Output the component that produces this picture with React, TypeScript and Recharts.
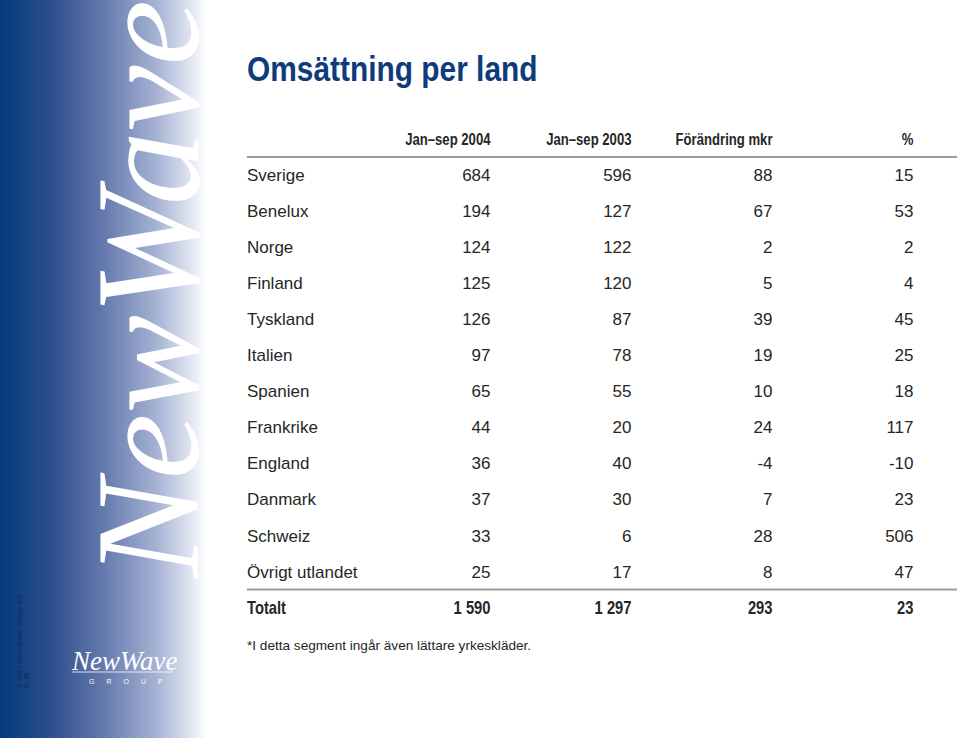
import React from 'react';
import { ScatterChart, Scatter, XAxis, YAxis, ReferenceLine, Customized } from 'recharts';

const title = 'Omsättning per land';
const footnote = '*I detta segment ingår även lättare yrkeskläder.';
const columns = ['Jan–sep 2004', 'Jan–sep 2003', 'Förändring mkr', '%'];
const countries = [
  'Sverige', 'Benelux', 'Norge', 'Finland', 'Tyskland', 'Italien', 'Spanien',
  'Frankrike', 'England', 'Danmark', 'Schweiz', 'Övrigt utlandet', 'Totalt',
];
const sales2004 = [684, 194, 124, 125, 126, 97, 65, 44, 36, 37, 33, 25, 1590];
const sales2003 = [596, 127, 122, 120, 87, 78, 55, 20, 40, 30, 6, 17, 1297];
const changeMkr = [88, 67, 2, 5, 39, 19, 10, 24, -4, 7, 28, 8, 293];
const changePct = [15, 53, 2, 4, 45, 25, 18, 117, -10, 23, 506, 47, 23];
const totalRow = 'Totalt';
const brand = 'NewWave';
const brandSub = 'GROUP';
const copyright = '© 2003 New Wave Group AB';
const pageCode = 'C-38';

const seriesByColumn = [sales2004, sales2003, changeMkr, changePct];
const cells = countries.flatMap((row, i) =>
  columns.map((col, j) => ({ row, col, value: seriesByColumn[j][i] }))
);

const fmt = (n: number) => String(n).replace(/\B(?=(\d{3})+(?!\d))/g, '\u00a0');

const SANS = "'Liberation Sans', Arial, sans-serif";
const SERIF = "'Liberation Serif', 'DejaVu Serif', serif";
const TEXT = '#262626';
const NAVY = '#0f3b7a';
const RIGHT_DX = 35;
const NARROW_SCALE = 0.82;

const HeaderTick = (props: any) => {
  const { x, y, payload } = props;
  return (
    <text transform={`translate(${x + RIGHT_DX},${y}) scale(${NARROW_SCALE},1)`} textAnchor="end"
      fontFamily={SANS} fontWeight="bold" fontSize={16} fill={TEXT}>
      {payload.value}
    </text>
  );
};

const RowTick = (props: any) => {
  const { x, y, payload } = props;
  const bold = payload.value === totalRow;
  return (
    <text transform={`translate(${x},${y}) scale(${bold ? NARROW_SCALE : 1},1)`} dy="0.36em" textAnchor="start"
      fontFamily={SANS} fontWeight={bold ? 'bold' : 'normal'} fontSize={bold ? 18 : 17} fill={TEXT}>
      {payload.value}
    </text>
  );
};

const CellText = (props: any) => {
  const { cx, cy, payload } = props;
  const bold = payload.row === totalRow;
  return (
    <text transform={`translate(${cx + RIGHT_DX},${cy}) scale(${bold ? NARROW_SCALE : 1},1)`} dy="0.36em" textAnchor="end"
      fontFamily={SANS} fontWeight={bold ? 'bold' : 'normal'} fontSize={bold ? 18 : 17} fill={TEXT}>
      {fmt(payload.value)}
    </text>
  );
};

const Decor = () => (
  <g>
    <defs>
      <linearGradient id="sidebar" x1="0" y1="0" x2="1" y2="0">
        <stop offset="0" stopColor="#023b7d" />
        <stop offset="0.25" stopColor="#2e4f8d" />
        <stop offset="0.5" stopColor="#6479ad" />
        <stop offset="0.75" stopColor="#a4b1d3" />
        <stop offset="0.92" stopColor="#e0e5f1" />
        <stop offset="1" stopColor="#ffffff" />
      </linearGradient>
    </defs>
    <rect x={0} y={0} width={207} height={738} fill="url(#sidebar)" />
    <text transform="translate(198,578) rotate(-90)" fontFamily={SERIF} fontStyle="italic" fontSize={148} fill="#ffffff">
      {brand}
    </text>
    <text transform="translate(22,688) rotate(-90)" fontFamily={SANS} fontWeight="bold" fontSize={7} fill="#14305f">
      {copyright}
    </text>
    <text transform="translate(29,688) rotate(-90)" fontFamily={SANS} fontWeight="bold" fontSize={7} fill="#14305f">
      {pageCode}
    </text>
    <text x={72} y={670} fontFamily={SERIF} fontStyle="italic" fontSize={27} fill="#ffffff">{brand}</text>
    <line x1={72} x2={173} y1={672} y2={672} stroke="#ffffff" strokeWidth={0.8} />
    <text x={89} y={684} fontFamily={SANS} fontSize={7} letterSpacing={12} fill="#ffffff">{brandSub}</text>
    <text transform={`translate(247,81) scale(0.83,1)`} fontFamily={SANS} fontWeight="bold" fontSize={36} fill={NAVY}>{title}</text>
    <text x={247} y={650} fontFamily={SANS} fontSize={13.6} fill={TEXT}>{footnote}</text>
  </g>
);

export default function App() {
  return (
    <div style={{ position: 'absolute', left: 0, top: 0, width: 960, height: 738, background: '#ffffff' }}>
      <ScatterChart width={960} height={738} margin={{ top: 117, right: 3, bottom: 112.5, left: 187 }}>
        <Customized component={Decor} />
        <XAxis type="category" dataKey="col" orientation="top" allowDuplicatedCategory={false}
          height={40} tickSize={0} tickMargin={12} axisLine={false} tickLine={false}
          padding={{ left: 138, right: 8 }} interval={0} tick={<HeaderTick />} />
        <YAxis type="category" dataKey="row" reversed allowDuplicatedCategory={false}
          width={60} tickSize={0} tickMargin={0} axisLine={false} tickLine={false}
          interval={0} tick={<RowTick />} />
        <ReferenceLine y={countries[0]} position="start" stroke="#9c9c9c" strokeWidth={2} />
        <ReferenceLine y={totalRow} position="start" stroke="#9c9c9c" strokeWidth={2} />
        <Scatter data={cells} shape={CellText} isAnimationActive={false} />
      </ScatterChart>
    </div>
  );
}
